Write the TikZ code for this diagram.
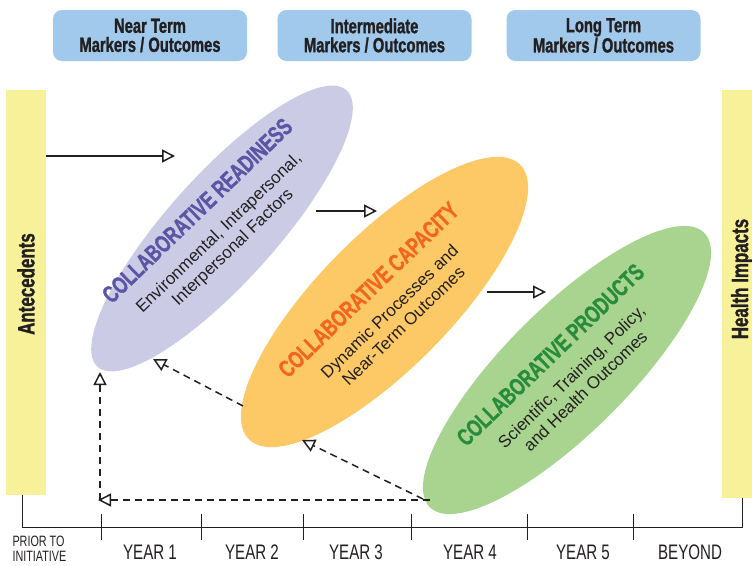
\documentclass[tikz,border=0pt]{standalone}
\usepackage{fontspec}
\setmainfont{Liberation Sans}
\newfontfamily\condfont[FakeStretch=0.72, BoldFeatures={FakeBold=1.2}]{Liberation Sans}
\usetikzlibrary{arrows.meta, shapes.geometric, positioning}
\definecolor{barYellow}{RGB}{247,242,154}
\definecolor{boxBlue}{RGB}{160,201,235}
\definecolor{readyFill}{RGB}{204,203,230}
\definecolor{capFill}{RGB}{253,201,102}
\definecolor{prodFill}{RGB}{168,212,143}
\definecolor{readyTitle}{RGB}{91,85,165}
\definecolor{capTitle}{RGB}{242,101,34}
\definecolor{prodTitle}{RGB}{40,140,60}
\definecolor{ink}{RGB}{35,31,32}
\newcommand{\phasetitle}[2]{{\color{#1}\condfont\bfseries\fontsize{24}{26}\selectfont #2}}
\tikzset{
  markbox/.style={rectangle, rounded corners=9pt, fill=boxBlue, minimum width=194pt, minimum height=51pt,
    align=center, text=ink, font=\condfont\bfseries\fontsize{20.5}{19}\selectfont},
  sidebar/.style={rectangle, fill=barYellow, inner sep=0pt},
  sidelabel/.style={rotate=90, text=ink, font=\condfont\bfseries\fontsize{23.5}{24}\selectfont},
  phase/.style={ellipse, inner sep=0pt},
  phasetext/.style={rotate=44, align=center, text=ink, font=\fontsize{17}{20}\selectfont},
  yearlabel/.style={text=ink, font=\condfont\fontsize{21}{22}\selectfont},
  flow/.style={draw=ink, line width=1.5pt, -{Triangle[open, length=13pt, width=13pt]}},
  feedback/.style={flow, dash pattern=on 7pt off 5pt}
}
\begin{document}
\begin{tikzpicture}[x=1pt, y=-1pt]
\useasboundingbox (0,0) rectangle (752,565);

\node[markbox] (near) at (150,35.5) {Near Term\\Markers / Outcomes};
\node[markbox] (inter) at (374.5,35.5) {Intermediate\\Markers / Outcomes};
\node[markbox] (long) at (603.5,35.5) {Long Term\\Markers / Outcomes};

\node[sidebar, minimum width=40pt, minimum height=405pt] (antec) at (26,292.5) {};
\node[sidelabel] (anteclabel) at (26,284) {Antecedents};
\node[sidebar, minimum width=30pt, minimum height=408pt] (health) at (737,294) {};
\node[sidelabel] (healthlabel) at (742,279) {Health Impacts};

\node[phase, fill=readyFill, minimum width=372pt, minimum height=108pt, rotate=48] (ready) at (222,228.5) {};
\node[phase, fill=capFill, minimum width=386pt, minimum height=133pt, rotate=45.4] (capacity) at (384.5,302) {};
\node[phase, fill=prodFill, minimum width=388pt, minimum height=124pt, rotate=45] (products) at (567,370) {};

\node[phasetext] (readytext) at (215,229) {\phasetitle{readyTitle}{COLLABORATIVE READINESS}\\[8pt]
  Environmental, Intrapersonal,\\ Interpersonal Factors};
\node[phasetext] (captext) at (385,307) {\phasetitle{capTitle}{COLLABORATIVE CAPACITY}\\[8pt]
  Dynamic Processes and\\ Near-Term Outcomes};
\node[phasetext] (prodtext) at (567,372) {\phasetitle{prodTitle}{COLLABORATIVE PRODUCTS}\\[8pt]
  Scientific, Training, Policy,\\ and Health Outcomes};

\coordinate (readyin) at (175,156);
\coordinate (readyout) at (316,211);
\coordinate (capin) at (377,211);
\coordinate (capout) at (487,292);
\coordinate (prodin) at (546,292);
\draw[flow] (antec.east |- readyin) -- (readyin);
\draw[flow] (readyout) -- (capin);
\draw[flow] (capout) -- (prodin);

\coordinate (capback) at (243,406);
\coordinate (readyback) at (153,359);
\coordinate (prodback) at (423,499);
\coordinate (capbackin) at (302,440);
\coordinate (prodlow) at (430,500);
\coordinate (corner) at (98,500);
\coordinate (readylow) at (100,372);
\draw[feedback] (capback) -- (readyback);
\draw[feedback] (prodback) -- (capbackin);
\draw[feedback] (prodlow) -- (corner);
\draw[feedback] (corner -| readylow) -- (readylow);

\coordinate (tl) at (22,527);
\coordinate (tr) at (742,527);
\draw[ink, line width=1pt] (antec.south -| tl) -- (tl) -- (tr) -- (health.south -| tr);
\foreach \x in {101,201,303,411,527,633}
  \draw[ink, line width=1pt] (\x,514) -- (\x,540);

\node[yearlabel, font=\condfont\fontsize{15}{15}\selectfont, align=left, anchor=west] (prior) at (9,549) {PRIOR TO\\INITIATIVE};
\foreach \x/\t in {150/YEAR 1, 252/YEAR 2, 356/YEAR 3, 470/YEAR 4, 583/YEAR 5, 690/BEYOND}
  \node[yearlabel] (yr\x) at (\x,552) {\t};
\end{tikzpicture}
\end{document}
